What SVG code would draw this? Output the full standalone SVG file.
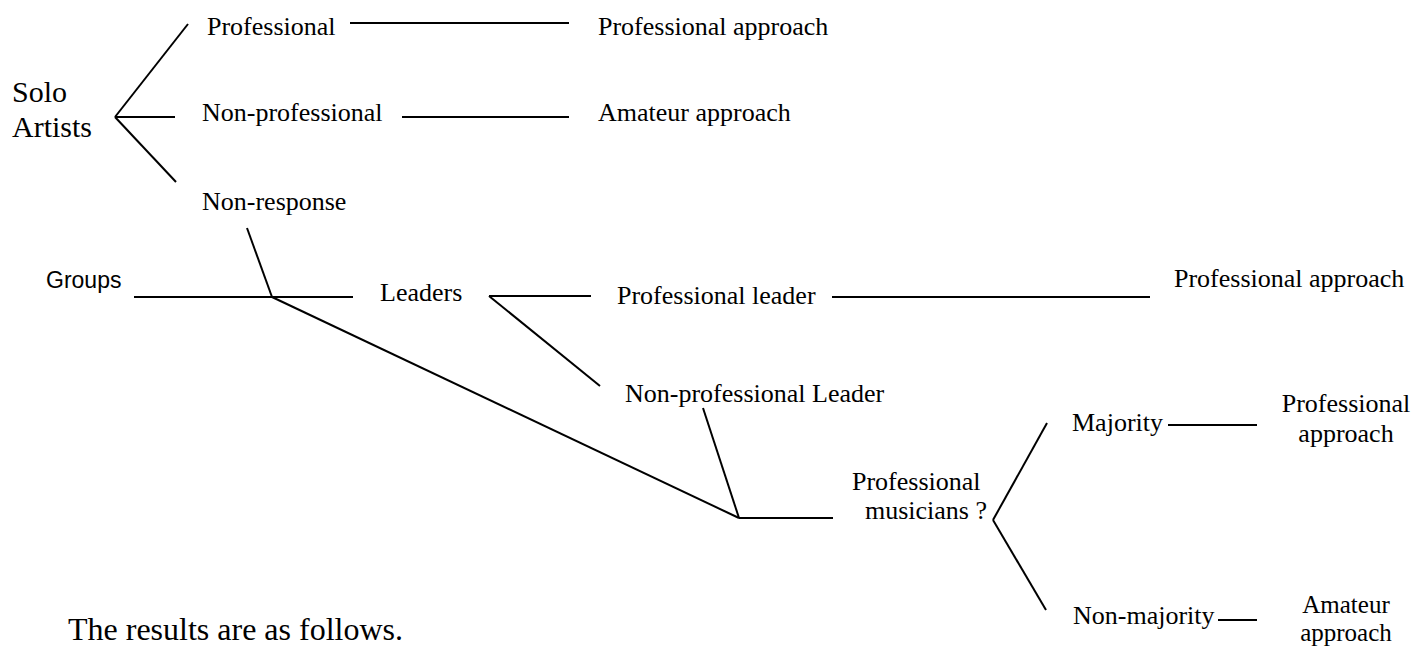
<svg xmlns="http://www.w3.org/2000/svg" width="1424" height="646" viewBox="0 0 1424 646">
<style>
text{font-family:"Liberation Serif","Times New Roman",serif;font-size:26px;fill:#000}
.big{font-size:30px}
.foot{font-size:32px}
.sm{font-size:25px}
.sans{font-family:"Liberation Sans",Arial,sans-serif;font-size:23px}
.mid{text-anchor:middle}
#connectors line{stroke:#000;stroke-width:2;stroke-linecap:butt}
</style>
<rect width="1424" height="646" fill="#fff"/>
<g id="connectors">
<line x1="115" y1="117" x2="188" y2="24"/>
<line x1="115" y1="117" x2="175" y2="117"/>
<line x1="115" y1="117" x2="176" y2="182"/>
<line x1="350" y1="23" x2="569" y2="23"/>
<line x1="402" y1="117" x2="569" y2="117"/>
<line x1="134" y1="297" x2="353" y2="297"/>
<line x1="247" y1="228" x2="272" y2="297"/>
<line x1="272" y1="297" x2="739" y2="518"/>
<line x1="489" y1="296" x2="591" y2="296"/>
<line x1="489" y1="296" x2="600" y2="386"/>
<line x1="832" y1="297" x2="1150" y2="297"/>
<line x1="703" y1="408" x2="739" y2="518"/>
<line x1="739" y1="518" x2="833" y2="518"/>
<line x1="993" y1="520" x2="1047" y2="423"/>
<line x1="993" y1="520" x2="1046" y2="610"/>
<line x1="1168" y1="425" x2="1257" y2="425"/>
<line x1="1218" y1="620" x2="1257" y2="620"/>
</g>
<g id="solo-artists"><text class="big" x="12" y="102">Solo</text><text class="big" x="12" y="137">Artists</text></g>
<g id="solo-professional"><text x="207" y="35">Professional</text></g>
<g id="solo-nonprofessional"><text x="202" y="121">Non-professional</text></g>
<g id="non-response"><text x="202" y="210">Non-response</text></g>
<g id="solo-prof-approach"><text x="598" y="35">Professional approach</text></g>
<g id="solo-amateur-approach"><text x="598" y="121">Amateur approach</text></g>
<g id="groups"><text class="sans" x="46" y="288">Groups</text></g>
<g id="leaders"><text x="380" y="301">Leaders</text></g>
<g id="professional-leader"><text x="617" y="304">Professional leader</text></g>
<g id="leader-prof-approach"><text x="1174" y="287">Professional approach</text></g>
<g id="nonprofessional-leader"><text x="625" y="402">Non-professional Leader</text></g>
<g id="professional-musicians"><text x="852" y="490">Professional</text><text x="865" y="519">musicians ?</text></g>
<g id="majority"><text x="1072" y="431">Majority</text></g>
<g id="majority-approach"><text class="mid" x="1346" y="412">Professional</text><text class="mid" x="1346" y="442">approach</text></g>
<g id="non-majority"><text x="1073" y="624">Non-majority</text></g>
<g id="nonmajority-approach"><text class="mid sm" x="1346" y="613">Amateur</text><text class="mid sm" x="1346" y="641">approach</text></g>
<g id="caption"><text class="foot" x="68" y="640">The results are as follows.</text></g>
</svg>
